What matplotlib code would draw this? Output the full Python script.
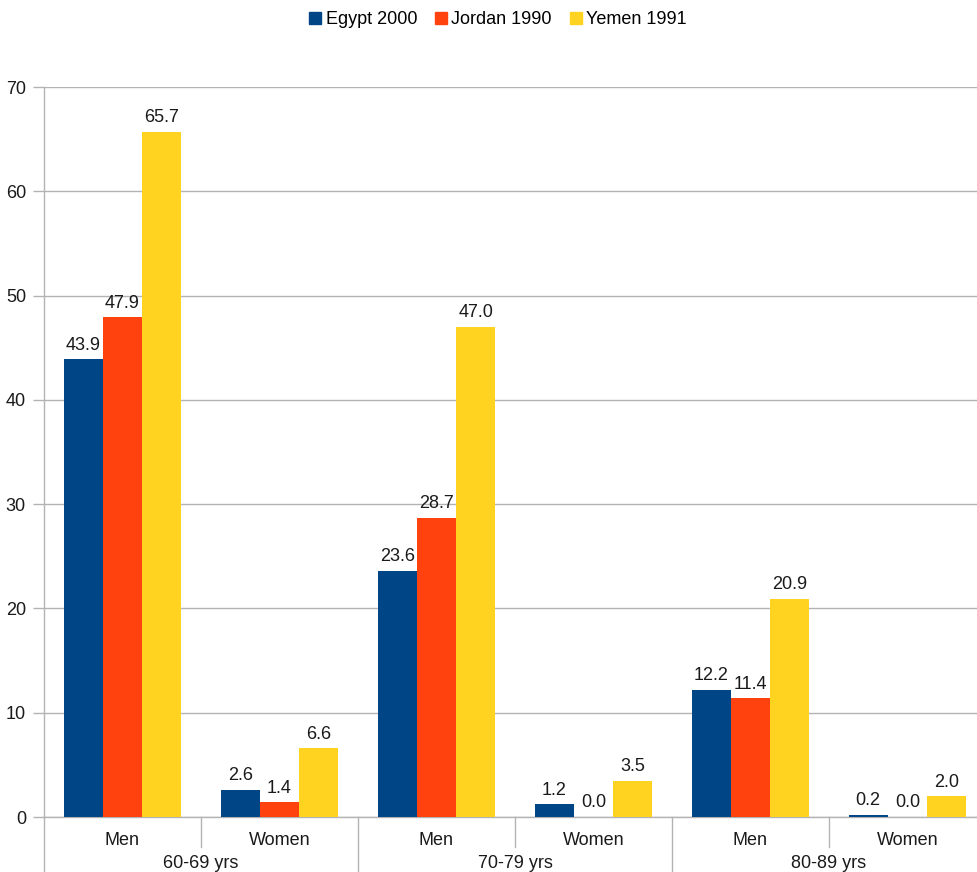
import matplotlib.pyplot as plt
import matplotlib.transforms as mtransforms
from matplotlib.patches import Patch

plt.rcParams['font.family'] = ['Liberation Sans', 'DejaVu Sans']

# data
groups = ['60-69 yrs', '70-79 yrs', '80-89 yrs']
sexes = ['Men', 'Women']
series = ['Egypt 2000', 'Jordan 1990', 'Yemen 1991']
egypt = [43.9, 2.6, 23.6, 1.2, 12.2, 0.2]
jordan = [47.9, 1.4, 28.7, 0.0, 11.4, 0.0]
yemen = [65.7, 6.6, 47.0, 3.5, 20.9, 2.0]
colors = ['#004586', '#ff420e', '#ffd320']

W, H = 978, 872
fs = 13
fig = plt.figure(figsize=(W / 100, H / 100), dpi=100)
ax = fig.add_axes([44 / W, 1 - 817 / H, 942 / W, 730 / H])

n = len(egypt)
centers = [i + 0.5 for i in range(n)]
bw = 0.25
for k, (vals, col) in enumerate(zip([egypt, jordan, yemen], colors)):
    xs = [c + (k - 1) * bw for c in centers]
    ax.bar(xs, vals, bw, color=col, zorder=3)
    for x, v in zip(xs, vals):
        ax.annotate('%.1f' % v, (x, v), xytext=(0, 4), textcoords='offset points',
                    ha='center', va='bottom', fontsize=fs, color='#1a1a1a')

ax.set_xlim(0, n)
ax.set_ylim(0, 70)
ax.set_yticks(range(0, 71, 10))
ax.yaxis.grid(True, color='#b3b3b3', linewidth=1, zorder=0)
ax.tick_params(axis='y', length=8, width=1, color='#b3b3b3', pad=5,
               labelsize=fs, labelcolor='#1a1a1a')
ax.set_xticks([])
for s in ['top', 'right']:
    ax.spines[s].set_visible(False)
for s in ['left', 'bottom']:
    ax.spines[s].set_color('#b3b3b3')
    ax.spines[s].set_linewidth(1)

trans = mtransforms.blended_transform_factory(ax.transData, ax.transAxes)
# category separators below the axis
for i in range(n + 1):
    low = -55 / 730 if i % 2 == 0 else -30 / 730
    ax.plot([i, i], [0, low], transform=trans, color='#b3b3b3', lw=1, clip_on=False)
for i, c in enumerate(centers):
    ax.text(c, -23 / 730, sexes[i % 2], transform=trans, ha='center', va='center',
            fontsize=fs, color='#1a1a1a')
for g, name in enumerate(groups):
    ax.text(2 * g + 1, -46 / 730, name, transform=trans, ha='center', va='center',
            fontsize=fs, color='#1a1a1a')

handles = [Patch(color=c) for c in colors]
fig.legend(handles, series, loc='center', bbox_to_anchor=(498 / W, 1 - 20 / H), ncol=3,
           frameon=False, fontsize=fs, handlelength=0.65, handleheight=0.65,
           handletextpad=0.25, columnspacing=1.0)

fig.savefig('out.png', dpi=100)
